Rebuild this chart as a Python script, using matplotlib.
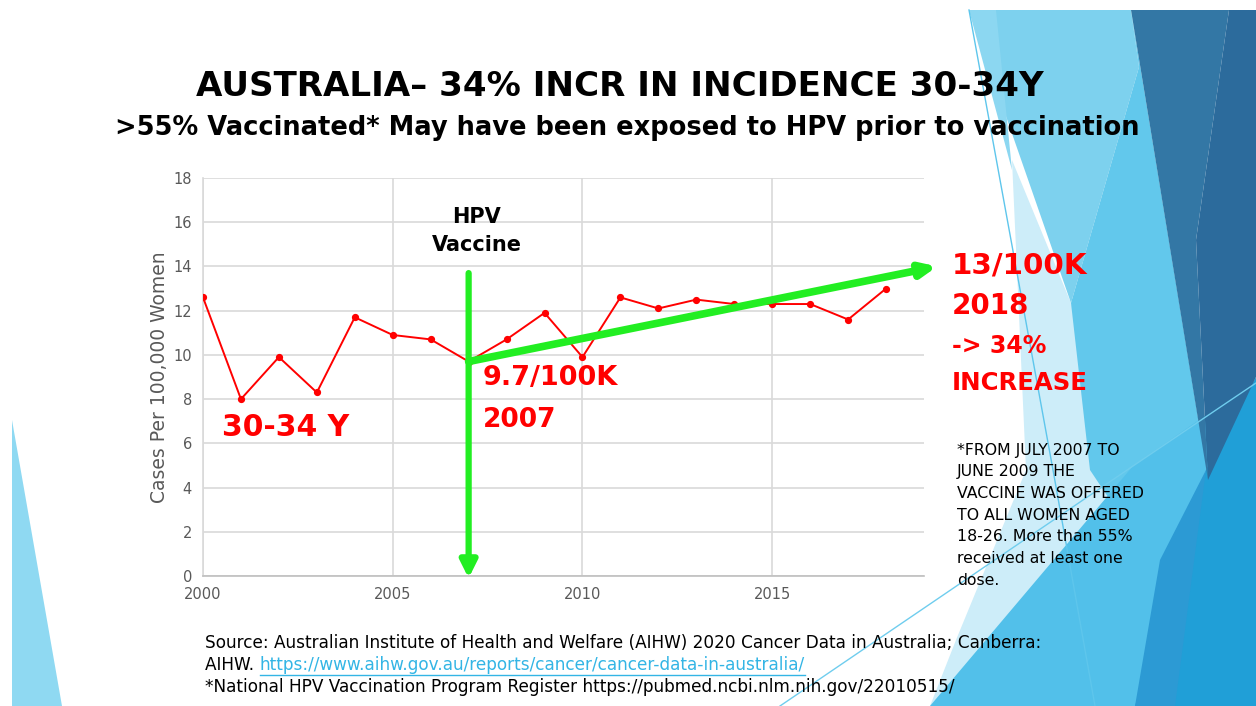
import matplotlib
matplotlib.use("Agg")
import matplotlib.pyplot as plt
from matplotlib.patches import Polygon

W, H = 1256, 706

years = [2000, 2001, 2002, 2003, 2004, 2005, 2006, 2007, 2008, 2009,
         2010, 2011, 2012, 2013, 2014, 2015, 2016, 2017, 2018]
rates = [12.6, 8.0, 9.9, 8.3, 11.7, 10.9, 10.7, 9.7, 10.7, 11.9,
         9.9, 12.6, 12.1, 12.5, 12.3, 12.3, 12.3, 11.6, 13.0]
x_ticks = [2000, 2005, 2010, 2015]
y_ticks = list(range(0, 20, 2))

title = "AUSTRALIA\u2013 34% INCR IN INCIDENCE 30-34Y"
subtitle = ">55% Vaccinated* May have been exposed to HPV prior to vaccination"
note_lines = ["*FROM JULY 2007 TO", "JUNE 2009 THE", "VACCINE WAS OFFERED",
              "TO ALL WOMEN AGED", "18-26. More than 55%",
              "received at least one", "dose."]
src1 = "Source: Australian Institute of Health and Welfare (AIHW) 2020 Cancer Data in Australia; Canberra:"
src2a = "AIHW. "
src2b = "https://www.aihw.gov.au/reports/cancer/cancer-data-in-australia/"
src3 = "*National HPV Vaccination Program Register https://pubmed.ncbi.nlm.nih.gov/22010515/"


def px(x, y):
    return x / W, 1 - y / H


fig = plt.figure(figsize=(W / 100, H / 100), dpi=100)
fig.patch.set_facecolor("white")

# background shapes (slide theme)
bg = fig.add_axes([0, 0, 1, 1], zorder=-5)
bg.set_xlim(0, W)
bg.set_ylim(H, 0)
bg.axis("off")
shapes = [
    ([(12, 420), (12, 706), (62, 706)], "#8fd9f2"),
    ([(1012, 160), (1071, 303), (1130, 470), (1000, 706), (930, 706), (956, 640), (1026, 470)], "#cdedf9"),
    ([(969, 10), (1131, 10), (1139, 67), (1071, 303)], "#7dd1ee"),
    ([(969, 10), (996, 10), (1012, 170)], "#8cd7f1"),
    ([(1139, 67), (1131, 10), (1210, 490), (1150, 560), (1090, 470), (1071, 303)], "#62c8ec"),
    ([(930, 706), (1133, 466), (1256, 380), (1256, 706)], "#52c0ea"),
    ([(1256, 377), (1206, 470), (1135, 706), (1256, 706)], "#209fd7"),
    ([(1160, 560), (1206, 470), (1175, 706), (1135, 706)], "#2c9ad4"),
    ([(1131, 10), (1229, 10), (1196, 240), (1208, 480)], "#3377a5"),
    ([(1229, 10), (1256, 10), (1256, 377), (1208, 480), (1196, 240)], "#2c6b9c"),
]
for pts, c in shapes:
    bg.add_patch(Polygon(pts, closed=True, facecolor=c, edgecolor="none"))
bg.plot([969, 1053, 1095], [10, 470, 706], color="#5ec6ec", lw=1)
bg.plot([780, 1133, 1256], [706, 466, 383], color="#6fcdee", lw=1)

# chart
ax = fig.add_axes([203 / W, 1 - 576 / H, (924 - 203) / W, (576 - 178) / H])
ax.set_facecolor("none")
ax.plot(years, rates, color="#ff0000", lw=1.4, marker="o", ms=4.2, zorder=3)
ax.set_xlim(2000, 2019)
ax.set_ylim(0, 18)
ax.set_xticks(x_ticks)
ax.set_yticks(y_ticks)
ax.grid(True, color="#d9d9d9", lw=1.2)
ax.set_axisbelow(True)
for s in ["top", "right"]:
    ax.spines[s].set_visible(False)
ax.spines["left"].set_color("#d9d9d9")
ax.spines["bottom"].set_color("#bfbfbf")
ax.spines["left"].set_linewidth(1.2)
ax.spines["bottom"].set_linewidth(1.2)
ax.tick_params(length=0, labelsize=10.5, labelcolor="#595959", pad=8)
ax.set_ylabel("Cases Per 100,000 Women", fontsize=13.5, color="#595959", labelpad=3)

green = "#22ee22"
ax.annotate("", xy=(years[7], -0.1), xytext=(years[7], 13.7),
            arrowprops=dict(arrowstyle="-|>,head_width=0.5,head_length=1.0",
                            color=green, lw=4.5, shrinkA=0, shrinkB=0),
            annotation_clip=False, zorder=4)
ax.annotate("", xy=(2019.35, 14.0), xytext=(years[7], rates[7]),
            arrowprops=dict(arrowstyle="-|>,head_width=0.4,head_length=0.9",
                            color=green, lw=5.5, shrinkA=0, shrinkB=0),
            annotation_clip=False, zorder=4)

# texts
fam = "DejaVu Sans"
fig.text(*px(620, 86), title, fontsize=24.6, fontweight="bold", ha="center", va="center",
         family=fam, color="black")
fig.text(*px(627, 128), subtitle, fontsize=18.5, fontweight="bold", ha="center", va="center",
         family=fam, color="black")
fig.text(*px(477, 231), "HPV\nVaccine", fontsize=15, fontweight="bold", ha="center",
         va="center", family=fam, linespacing=1.5)

red = "#ff0000"
fig.text(*px(222, 427), "30-34 Y", fontsize=21.5, fontweight="bold", color=red,
         va="center", family=fam)
fig.text(*px(483, 378), "9.7/100K", fontsize=19.5, fontweight="bold", color=red,
         va="center", family=fam)
fig.text(*px(483, 420), "2007", fontsize=19, fontweight="bold", color=red,
         va="center", family=fam)
fig.text(*px(952, 266), "13/100K", fontsize=21.2, fontweight="bold", color=red,
         va="center", family=fam)
fig.text(*px(952, 306), "2018", fontsize=20, fontweight="bold", color=red,
         va="center", family=fam)
fig.text(*px(952, 346), "-> 34%", fontsize=17, fontweight="bold", color=red,
         va="center", family=fam)
fig.text(*px(952, 383), "INCREASE", fontsize=17.6, fontweight="bold", color=red,
         va="center", family=fam)

for i, line in enumerate(note_lines):
    fig.text(*px(957, 450 + i * 21.7), line, fontsize=11.3, va="center", family=fam)

fs = 12.2
fig.text(*px(205, 643), src1, fontsize=fs, va="center", family=fam)
t = fig.text(*px(205, 665), src2a, fontsize=fs, va="center", family=fam)
fig.canvas.draw()
r = fig.canvas.get_renderer()
bb = t.get_window_extent(r)
fig.text(bb.x1 / W, 1 - 665 / H, src2b, fontsize=fs, va="center", family=fam,
         color="#33b5e5")
bb2 = fig.texts[-1].get_window_extent(r)
fig.add_artist(plt.Line2D([bb2.x0 / W, bb2.x1 / W], [1 - 675 / H, 1 - 675 / H],
                          color="#33b5e5", lw=1))
fig.text(*px(205, 687), src3, fontsize=fs, va="center", family=fam)

fig.savefig("out.png", dpi=100)
